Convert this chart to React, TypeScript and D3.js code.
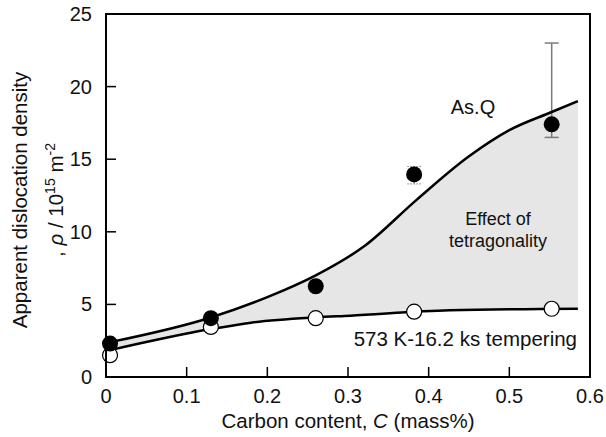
import * as d3 from 'd3';

// axis ticks
const xTicks = [0, 0.1, 0.2, 0.3, 0.4, 0.5, 0.6];
const yTicks = [0, 5, 10, 15, 20, 25];

// measured points (carbon content, dislocation density)
const asqC = [0.005, 0.13, 0.26, 0.382, 0.5525];
const asqRho = [2.3, 4.05, 6.25, 13.95, 17.4];
const temperC = [0.005, 0.13, 0.26, 0.382, 0.5525];
const temperRho = [1.5, 3.45, 4.05, 4.5, 4.7];

// error bars
const errC = [0.382, 0.5525];
const errLow = [13.3, 16.5];
const errHigh = [14.5, 23.0];

// fitted curves
const asqCurveC = [0.005, 0.13, 0.2, 0.26, 0.32, 0.385, 0.45, 0.5, 0.5525, 0.585];
const asqCurveRho = [2.4, 4.1, 5.5, 7.0, 9.0, 12.2, 15.2, 17.0, 18.25, 19.0];
const temperCurveC = [0.005, 0.13, 0.18, 0.26, 0.3025, 0.426, 0.585];
const temperCurveRho = [1.85, 3.3, 3.74, 4.1, 4.22, 4.6, 4.7];

const W = 606;
const H = 437;
const left = 106, right = 590, top = 14, bottom = 377;
const font = '"Liberation Sans", Arial, sans-serif';

export default function App() {
  const x = d3.scaleLinear().domain([0, 0.6]).range([left, right]);
  const y = d3.scaleLinear().domain([0, 25]).range([bottom, top]);

  const line = d3.line<[number, number]>()
    .x(d => x(d[0]))
    .y(d => y(d[1]))
    .curve(d3.curveMonotoneX);

  const upper: [number, number][] = asqCurveC.map((c, i) => [c, asqCurveRho[i]]);
  const lower: [number, number][] = temperCurveC.map((c, i) => [c, temperCurveRho[i]]);
  const lineRev = d3.line<[number, number]>()
    .x(d => x(d[0]))
    .y(d => y(d[1]))
    .curve(d3.curveMonotoneX);
  const areaPath = line(upper) + 'L' + (lineRev(lower.slice().reverse()) || '').slice(1) + 'Z';

  return (
    <div style={{ position: 'absolute', left: 0, top: 0 }}>
      <svg width={W} height={H} style={{ display: 'block', fontFamily: font }}>
        <rect width={W} height={H} fill="#fff" />
        <path d={areaPath} fill="#e6e6e6" stroke="none" />

        {/* error bars */}
        {errC.map((c, i) => (
          <g key={'e' + i} stroke={i === 0 ? '#999' : '#7a7a7a'} strokeWidth={i === 0 ? 1 : 1.5}
            strokeDasharray={i === 0 ? '2,1' : undefined}>
            <line x1={x(c)} x2={x(c)} y1={y(errLow[i])} y2={y(errHigh[i])} />
            <line x1={x(c) - 7} x2={x(c) + 7} y1={y(errLow[i])} y2={y(errLow[i])} />
            <line x1={x(c) - 7} x2={x(c) + 7} y1={y(errHigh[i])} y2={y(errHigh[i])} />
          </g>
        ))}

        <path d={line(upper) || ''} fill="none" stroke="#000" strokeWidth={2.5} />
        <path d={line(lower) || ''} fill="none" stroke="#000" strokeWidth={2.5} />

        {temperC.map((c, i) => (
          <circle key={'t' + i} cx={x(c)} cy={y(temperRho[i])} r={7.5} fill="#fff" stroke="#000" strokeWidth={1.2} />
        ))}
        {asqC.map((c, i) => (
          <circle key={'a' + i} cx={x(c)} cy={y(asqRho[i])} r={8} fill="#000" />
        ))}

        {/* frame */}
        <rect x={left} y={top} width={right - left} height={bottom - top} fill="none" stroke="#000" strokeWidth={2} />

        {/* ticks */}
        {xTicks.slice(1, -1).map(t => (
          <line key={'xt' + t} x1={x(t)} x2={x(t)} y1={bottom} y2={bottom - 10} stroke="#000" strokeWidth={1.5} />
        ))}
        {yTicks.slice(1, -1).map(t => (
          <line key={'yt' + t} x1={left} x2={left + 10} y1={y(t)} y2={y(t)} stroke="#000" strokeWidth={1.5} />
        ))}
        {xTicks.map(t => (
          <text key={'xl' + t} x={x(t)} y={403} textAnchor="middle" fontSize={20} fill="#111">{String(t)}</text>
        ))}
        {yTicks.map(t => (
          <text key={'yl' + t} x={92} y={y(t) + 7} textAnchor="end" fontSize={20} fill="#111">{String(t)}</text>
        ))}

        {/* axis titles */}
        <text x={348} y={428} textAnchor="middle" fontSize={20.5} fill="#111">
          Carbon content, <tspan fontStyle="italic">C</tspan> (mass%)
        </text>
        <g transform="translate(27,200) rotate(-90)">
          <text x={0} y={0} textAnchor="middle" fontSize={20.5} fill="#111">Apparent dislocation density</text>
        </g>
        <g transform="translate(63,200) rotate(-90)">
          <text x={0} y={0} textAnchor="middle" fontSize={20.5} fill="#111">
            , <tspan fontStyle="italic">ρ</tspan> / 10<tspan fontSize={14} dy={-8}>15</tspan>
            <tspan dy={8}> m</tspan><tspan fontSize={14} dy={-8}>-2</tspan>
          </text>
        </g>

        {/* annotations */}
        <text x={473} y={114} textAnchor="middle" fontSize={20} fill="#111">As.Q</text>
        <text x={498} y={225} textAnchor="middle" fontSize={18} fill="#111">Effect of</text>
        <text x={498} y={247} textAnchor="middle" fontSize={18} fill="#111">tetragonality</text>
        <text x={577} y={346} textAnchor="end" fontSize={20.5} fill="#111">573 K-16.2 ks tempering</text>
      </svg>
    </div>
  );
}
